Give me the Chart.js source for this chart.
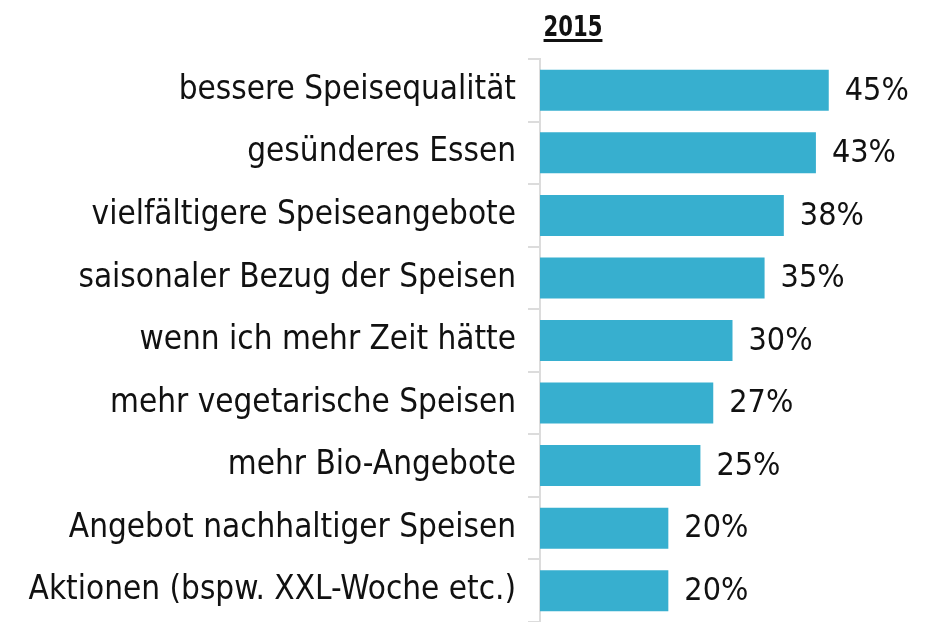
<!DOCTYPE html>
<html>
<head>
<meta charset="utf-8">
<script src="https://cdn.jsdelivr.net/npm/chart.js@4/dist/chart.umd.min.js"></script>
<style>
  html, body { margin: 0; padding: 0; background: #fff; }
  #wrap { width: 928px; height: 622px; }
</style>
</head>
<body>
<div id="wrap"><canvas id="myChart"></canvas></div>
<script>
const categories = [
    'bessere Speisequalität',
    'gesünderes Essen',
    'vielfältigere Speiseangebote',
    'saisonaler Bezug der Speisen',
    'wenn ich mehr Zeit hätte',
    'mehr vegetarische Speisen',
    'mehr Bio-Angebote',
    'Angebot nachhaltiger Speisen',
    'Aktionen (bspw. XXL-Woche etc.)'
];
const shares2015 = [45, 43, 38, 35, 30, 27, 25, 20, 20];
const yearLabel = '2015';

const FONT = '"DejaVu Sans Condensed", "DejaVu Sans", sans-serif';
const BAR_COLOR = '#37afcf';

// year heading above the bars, underlined
const yearTitle = {
    id: 'yearTitle',
    afterDraw(chart) {
        const ctx = chart.ctx;
        const x = chart.chartArea.left + 33;
        ctx.save();
        ctx.font = 'bold 28px ' + FONT;
        ctx.fillStyle = '#111';
        ctx.textAlign = 'center';
        ctx.textBaseline = 'alphabetic';
        ctx.translate(x, 0);
        ctx.scale(0.84, 1);
        ctx.fillText(yearLabel, 0, 36);
        const w = ctx.measureText(yearLabel).width;
        ctx.fillRect(-w / 2, 39, w, 3);
        ctx.restore();
    }
};

// percentage next to each bar end
const valueLabels = {
    id: 'valueLabels',
    afterDatasetsDraw(chart) {
        const ctx = chart.ctx;
        const meta = chart.getDatasetMeta(0);
        ctx.save();
        ctx.font = '32px ' + FONT;
        ctx.fillStyle = '#111';
        ctx.textAlign = 'left';
        ctx.textBaseline = 'middle';
        meta.data.forEach((bar, i) => {
            ctx.fillText(shares2015[i] + '%', bar.x + 16, bar.y + 1);
        });
        ctx.restore();
    }
};

const ctx = document.getElementById('myChart').getContext('2d');
new Chart(ctx, {
    type: 'bar',
    data: {
        labels: categories,
        datasets: [{
            data: shares2015,
            backgroundColor: BAR_COLOR,
            borderWidth: 0,
            categoryPercentage: 1,
            barPercentage: 0.655
        }]
    },
    options: {
        indexAxis: 'y',
        responsive: true,
        maintainAspectRatio: false,
        animation: false,
        layout: { padding: { top: 59, right: 3, bottom: 0, left: 0 } },
        plugins: {
            legend: { display: false },
            tooltip: { enabled: false }
        },
        scales: {
            x: {
                display: false,
                min: 0,
                max: 60
            },
            y: {
                afterFit(scale) {
                    scale.width = 540;
                    // no extra room for the end labels
                    scale.paddingTop = 0;
                    scale.paddingBottom = 0;
                },
                grid: {
                    offset: true,
                    drawOnChartArea: false,
                    tickLength: 12,
                    color: '#dcdcdc',
                    lineWidth: 2
                },
                border: { color: '#dcdcdc', width: 2 },
                ticks: {
                    padding: 12,
                    color: '#111',
                    font: { family: FONT, size: 33 }
                }
            }
        }
    },
    plugins: [yearTitle, valueLabels]
});
</script>
</body>
</html>
